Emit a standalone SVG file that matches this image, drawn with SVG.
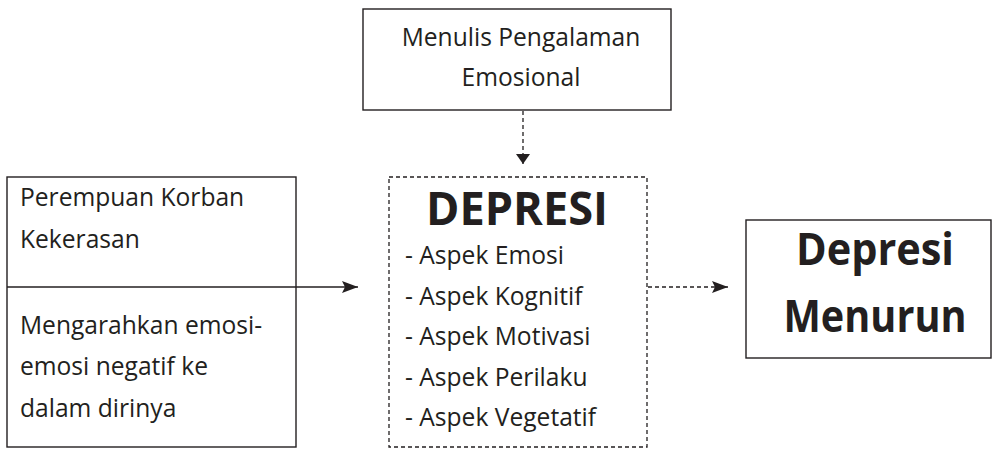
<svg xmlns="http://www.w3.org/2000/svg" width="998" height="450" viewBox="0 0 998 450">
<defs>
<marker id="ah" viewBox="0 0 10 14" refX="10" refY="7" markerWidth="10" markerHeight="14" markerUnits="userSpaceOnUse" orient="auto">
<path d="M0,0 L10,7 L0,14 z" fill="#231f20"/>
</marker>
<marker id="ahb" viewBox="0 0 16 10" refX="16" refY="5" markerWidth="16" markerHeight="12" markerUnits="userSpaceOnUse" orient="auto" preserveAspectRatio="none">
<path d="M0,0 L16,5 L0,10 L3,5 z" fill="#231f20"/>
</marker>
<style>
.box{fill:#fff;stroke:#231f20;stroke-width:1.4}
.dbox{fill:#fff;stroke:#231f20;stroke-width:1.3;stroke-dasharray:4 3}
.t{font-family:"Open Sans",Lato,sans-serif;font-size:24.6px;fill:#231f20;font-variant-ligatures:none}
.b{font-family:"Open Sans",Lato,sans-serif;font-weight:bold;fill:#231f20}
.ln{stroke:#231f20;stroke-width:1.4;fill:none}
.dl{stroke:#231f20;stroke-width:1.3;fill:none;stroke-dasharray:4 3}
</style>
</defs>
<rect width="998" height="450" fill="#fff"/>
<g id="node-menulis">
<rect class="box" x="363" y="9" width="308" height="101"/>
<text class="t" x="521" y="46" text-anchor="middle">Menulis Pengalaman</text>
<text class="t" x="521" y="86" text-anchor="middle">Emosional</text>
</g>
<g id="node-perempuan">
<rect class="box" x="7" y="177" width="289" height="270"/>
<text class="t" x="20" y="206">Perempuan Korban</text>
<text class="t" x="20" y="248">Kekerasan</text>
<text class="t" x="20" y="334">Mengarahkan emosi-</text>
<text class="t" x="20" y="375">emosi negatif ke</text>
<text class="t" x="20" y="417">dalam dirinya</text>
</g>
<g id="node-depresi">
<rect class="dbox" x="389" y="177" width="258" height="270"/>
<text class="b" x="517" y="225" text-anchor="middle" font-size="46" textLength="182" lengthAdjust="spacingAndGlyphs">DEPRESI</text>
<text class="t" x="405" y="264">- Aspek Emosi</text>
<text class="t" x="405" y="305">- Aspek Kognitif</text>
<text class="t" x="405" y="345">- Aspek Motivasi</text>
<text class="t" x="405" y="386">- Aspek Perilaku</text>
<text class="t" x="405" y="426">- Aspek Vegetatif</text>
</g>
<g id="node-menurun">
<rect class="box" x="746" y="220" width="245" height="138"/>
<text class="b" x="875" y="265" text-anchor="middle" font-size="44" textLength="158" lengthAdjust="spacingAndGlyphs">Depresi</text>
<text class="b" x="875" y="332" text-anchor="middle" font-size="44" textLength="183" lengthAdjust="spacingAndGlyphs">Menurun</text>
</g>
<g id="connectors">
<line class="ln" x1="7" y1="287" x2="358" y2="287" marker-end="url(#ahb)"/>
<line class="dl" x1="523" y1="111" x2="523" y2="164" marker-end="url(#ah)"/>
<line class="dl" x1="648" y1="287" x2="728" y2="287" marker-end="url(#ahb)"/>
</g>
</svg>
